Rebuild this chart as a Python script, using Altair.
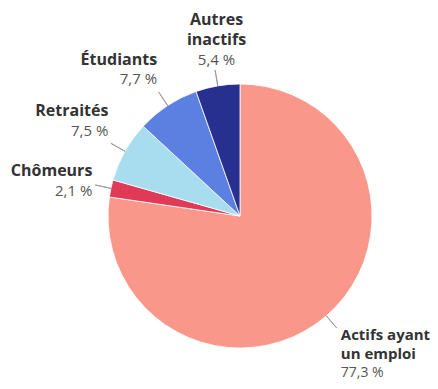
import math
import altair as alt
import pandas as pd

categories = ["Actifs ayant un emploi", "Chômeurs", "Retraités", "Étudiants", "Autres inactifs"]
values = [77.3, 2.1, 7.5, 7.7, 5.4]
value_labels = ["77,3 %", "2,1 %", "7,5 %", "7,7 %", "5,4 %"]
name_lines = [["Actifs ayant", "un emploi"], ["Chômeurs"], ["Retraités"], ["Étudiants"], ["Autres", "inactifs"]]
colors = ["#F8978A", "#E03A57", "#A8DCEF", "#5B80E2", "#28308F"]

df = pd.DataFrame({
    "cat": categories,
    "value": values,
    "vlabel": value_labels,
    "name": ["\n".join(l) for l in name_lines],
    "order": list(range(len(categories))),
})

FONT = "Open Sans"
CX = alt.value(232)
CY = alt.value(208)
theta_scale = alt.Scale(domain=[0, 100], range=[0, 2 * math.pi])

base = alt.Chart(df).transform_window(
    cum="sum(value)", sort=[alt.SortField("order")], frame=[None, 0]
).transform_calculate(
    start="datum.cum - datum.value",
    mid="datum.cum - datum.value / 2",
    mid2="datum.cum - datum.value / 2 + 0.02",
)

pie = base.mark_arc(radius=132, stroke="white", strokeWidth=0.8).encode(
    theta=alt.Theta("start:Q", scale=theta_scale, stack=None),
    theta2="cum:Q",
    color=alt.Color("cat:N", scale=alt.Scale(domain=categories, range=colors), legend=None),
    x=CX, y=CY,
)

leader = base.mark_arc(radius=132, radius2=148, fill="#9a9a9a", stroke="#9a9a9a", strokeWidth=0.9).encode(
    theta=alt.Theta("mid:Q", scale=theta_scale, stack=None),
    theta2="mid2:Q",
    x=CX, y=CY,
)

# (category, align, name dy, value dy, dx, name size, value size, line height)
label_cfg = [
    ("Actifs ayant un emploi", "left", 5, 43, 2, 15, 14, 19),
    ("Chômeurs", "right", -13, 7, 0, 16, 15, 20),
    ("Retraités", "right", -31, -11, 0, 16, 15, 20),
    ("Étudiants", "right", -30, -11, 0, 16, 15, 20),
    ("Autres inactifs", "center", -47, -7, 2, 16, 15, 20),
]

layers = [pie, leader]
for cat, align, ndy, vdy, dx, nsize, vsize, lh in label_cfg:
    sub = base.transform_filter(alt.datum.cat == cat)
    enc = dict(theta=alt.Theta("mid:Q", scale=theta_scale, stack=None), x=CX, y=CY)
    layers.append(sub.mark_text(
        radius=151, align=align, baseline="middle", dx=dx, dy=ndy, lineBreak="\n", lineHeight=lh,
        font=FONT, fontSize=nsize, fontWeight="bold", color="#333333",
    ).encode(text="name:N", **enc))
    layers.append(sub.mark_text(
        radius=151, align=align, baseline="middle", dx=dx, dy=vdy,
        font=FONT, fontSize=vsize, color="#555555",
    ).encode(text="vlabel:N", **enc))

chart = alt.layer(*layers).properties(
    width=422, height=372, padding=0, autosize=alt.AutoSizeParams(type="none")
).configure_view(stroke=None)

chart.save("out.html", embed_options={"renderer": "svg", "actions": False})
